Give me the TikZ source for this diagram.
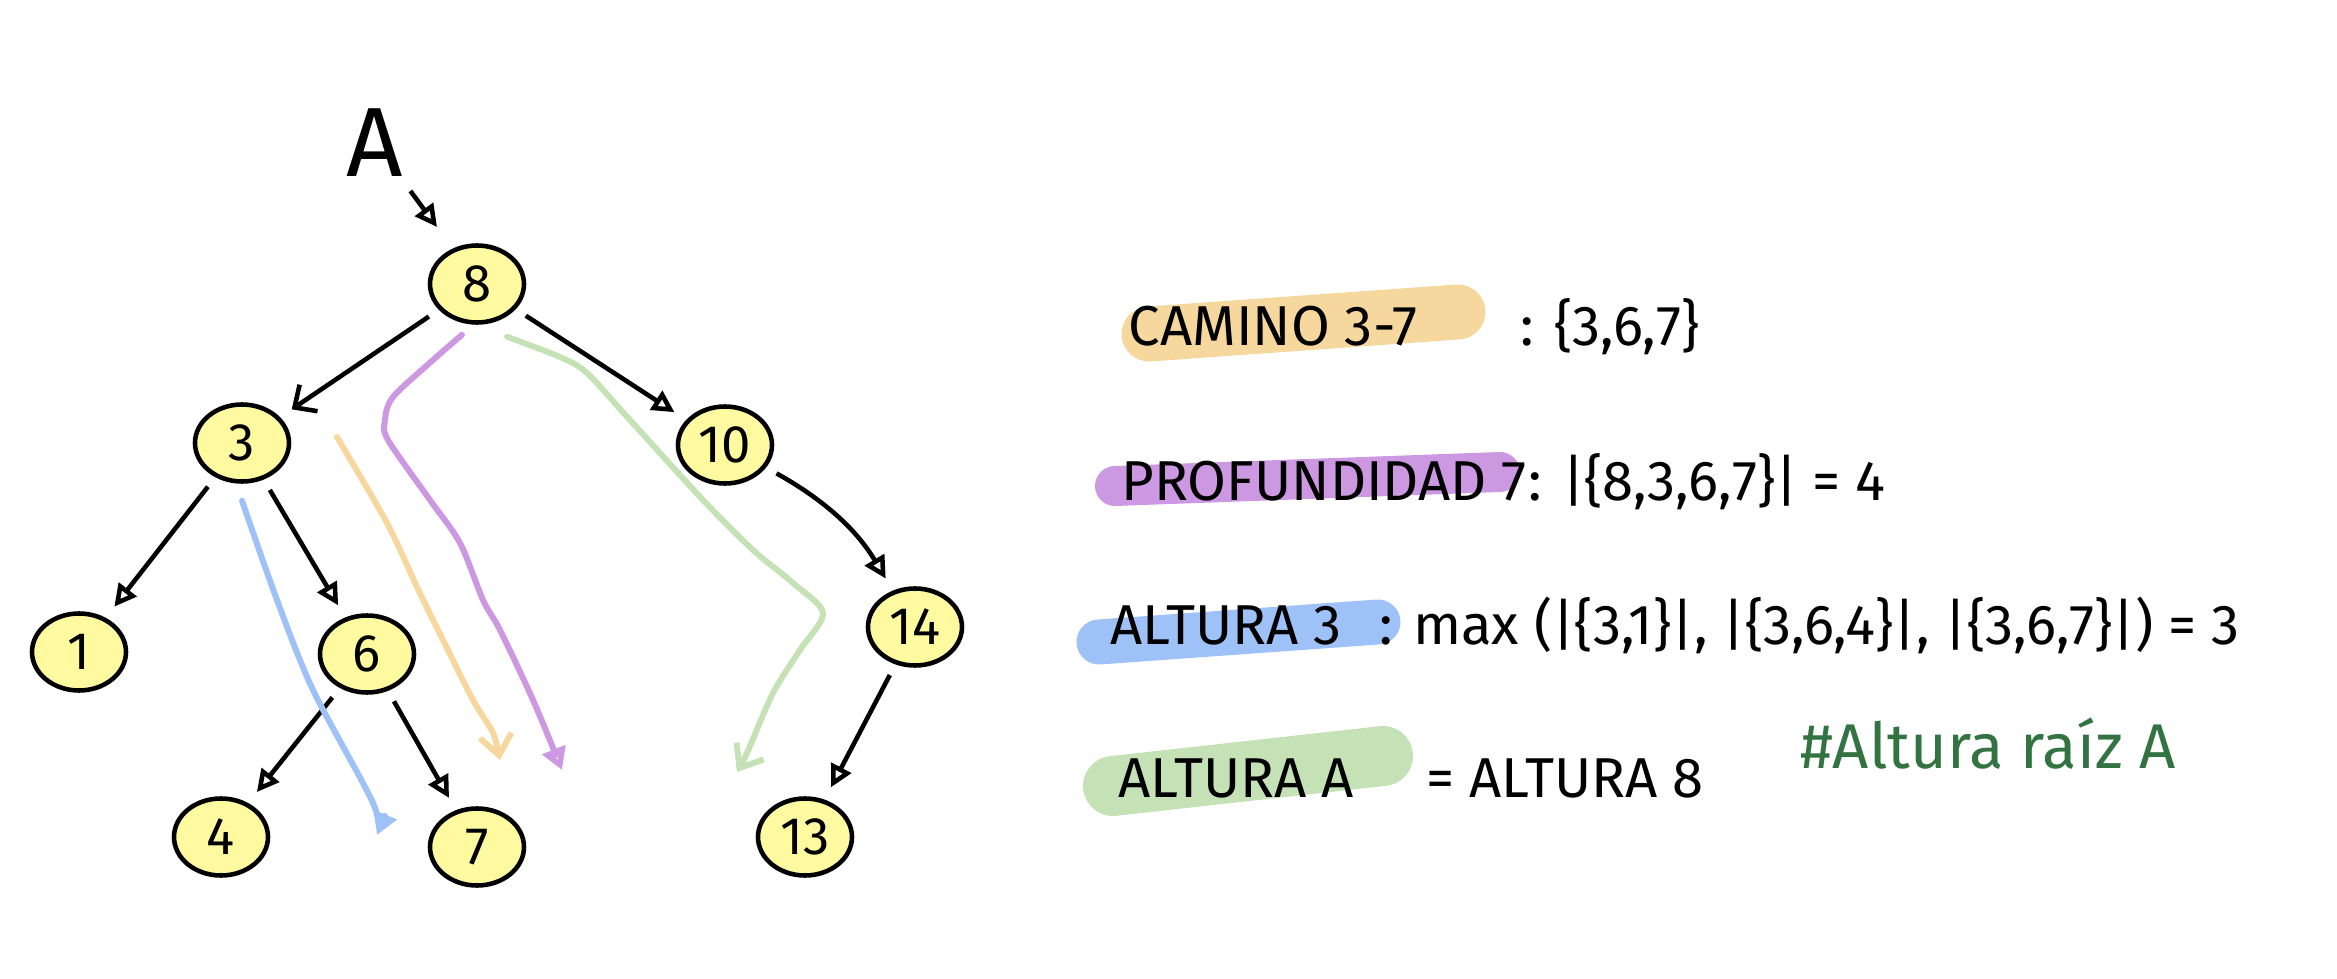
\documentclass[tikz,border=0pt]{standalone}
\usepackage{fontspec}
\setmainfont{Fira Sans}
\usetikzlibrary{shapes.geometric,arrows.meta,positioning}
\definecolor{nodeyellow}{RGB}{255,250,160}
\definecolor{hlorange}{RGB}{246,216,158}
\definecolor{hlpurple}{RGB}{205,152,226}
\definecolor{hlblue}{RGB}{158,194,248}
\definecolor{hlgreen}{RGB}{196,226,182}
\definecolor{notegreen}{RGB}{50,115,65}
\begin{document}
\begin{tikzpicture}[
        treenode/.style = {ellipse, draw, line width=1.3pt, fill=nodeyellow, minimum width=0.94cm, minimum height=0.77cm, inner sep=0pt, font=\fontsize{15}{15}\selectfont},
        edge/.style = {line width=1.3pt, -{Triangle[open, length=0.22cm, width=0.22cm]}, shorten <=0.12cm, shorten >=0.14cm},
        trace/.style = {line width=1.7pt, line cap=round, line join=round},
        hl/.style = {line cap=round},
        txt/.style = {anchor=base west, inner sep=0pt, font=\fontsize{16}{16}\selectfont}
    ]
    \useasboundingbox (0,0) rectangle (23.37,-9.79);

    \draw[hl, hlorange, line width=0.55cm] (11.49,-3.34) -- (14.58,-3.12);
    \draw[hl, hlpurple, line width=0.40cm] (11.15,-4.86) -- (15.00,-4.72);
    \draw[hl, hlblue, line width=0.45cm] (10.99,-6.42) -- (13.78,-6.22);
    \draw[hl, hlgreen, line width=0.60cm] (11.13,-7.86) -- (13.83,-7.56);

    \node[treenode] (n8) at (4.77,-2.84) {8};
    \node[treenode] (n3) at (2.42,-4.43) {3};
    \node[treenode] (n10) at (7.25,-4.45) {10};
    \node[treenode] (n1) at (0.79,-6.52) {1};
    \node[treenode] (n6) at (3.67,-6.54) {6};
    \node[treenode] (n14) at (9.15,-6.27) {14};
    \node[treenode] (n4) at (2.21,-8.37) {4};
    \node[treenode] (n7) at (4.77,-8.47) {7};
    \node[treenode] (n13) at (8.05,-8.37) {13};
    \node[font=\fontsize{28}{28}\selectfont] (labA) at (3.75,-1.43) {A};
    \coordinate (rootin) at (4.37,-2.27);

    \draw[edge, shorten <=0.02cm, shorten >=0pt] (labA) -- (rootin);
    \draw[edge, -{Straight Barb[length=0.17cm, width=0.32cm]}] (n8) -- (n3);
    \draw[edge] (n8) -- (n10);
    \draw[edge] (n3) -- (n1);
    \draw[edge] (n3) -- (n6);
    \draw[edge, bend left=15] (n10) to (n14);
    \draw[edge] (n6) -- (n4);
    \draw[edge] (n6) -- (n7);
    \draw[edge] (n14) -- (n13);

    \coordinate (bluestart) at ([yshift=-0.17cm]n3.south);
    \coordinate (blueend) at (3.77,-8.35);
    \coordinate (orangestart) at (3.37,-4.37);
    \coordinate (orangeend) at (5.00,-7.60);
    \coordinate (purplestart) at ([xshift=-0.15cm, yshift=-0.1cm]n8.south);
    \coordinate (purpleend) at (5.62,-7.70);
    \coordinate (greenstart) at ([xshift=0.3cm, yshift=-0.12cm]n8.south);
    \coordinate (greenend) at (7.37,-7.72);

    \draw[trace, hlblue, -{Triangle[open, length=0.22cm, width=0.24cm]}] plot[smooth, tension=0.5] coordinates {(bluestart) (2.77,-6.0) (3.13,-6.9) (3.73,-8.03) (blueend)};
    \draw[trace, hlorange, -{Straight Barb[length=0.2cm, width=0.32cm]}] plot[smooth, tension=0.5] coordinates {(orangestart) (3.87,-5.23) (4.17,-5.87) (4.43,-6.4) (4.73,-7.0) (4.93,-7.33) (orangeend)};
    \draw[trace, hlpurple, -{Triangle[open, length=0.22cm, width=0.24cm]}] plot[smooth, tension=0.5] coordinates {(purplestart) (4.33,-3.6) (3.93,-3.97) (3.85,-4.2) (3.88,-4.4) (4.3,-5.0) (4.6,-5.43) (4.83,-6.0) (5.0,-6.3) (5.33,-7.0) (purpleend)};
    \draw[trace, hlgreen, -{Straight Barb[length=0.2cm, width=0.32cm]}] plot[smooth, tension=0.5] coordinates {(greenstart) (5.6,-3.57) (5.87,-3.73) (6.3,-4.2) (7.03,-5.0) (7.53,-5.5) (7.93,-5.83) (8.23,-6.13) (8.0,-6.5) (7.73,-6.93) (7.47,-7.53) (greenend)};

    \node[txt] (camino) at (11.28,-3.46) {CAMINO 3-7};
    \node[txt] (caminoval) at (15.20,-3.46) {: \{3,6,7\}};
    \node[txt] (prof) at (11.21,-5.00) {PROFUNDIDAD 7};
    \node[txt] (profval) at (15.28,-5.00) {: |\{8,3,6,7\}| = 4};
    \node[txt] (alt3) at (11.10,-6.44) {ALTURA 3};
    \node[txt] (alt3val) at (13.79,-6.44) {: max (|\{3,1\}|, |\{3,6,4\}|, |\{3,6,7\}|) = 3};
    \node[txt] (altA) at (11.18,-7.97) {ALTURA A};
    \node[txt] (altAval) at (14.26,-7.97) {= ALTURA 8};
    \node[txt, text=notegreen, font=\fontsize{18}{18}\selectfont] (note) at (18.00,-7.68) {\#Altura raíz A};
\end{tikzpicture}
\end{document}
